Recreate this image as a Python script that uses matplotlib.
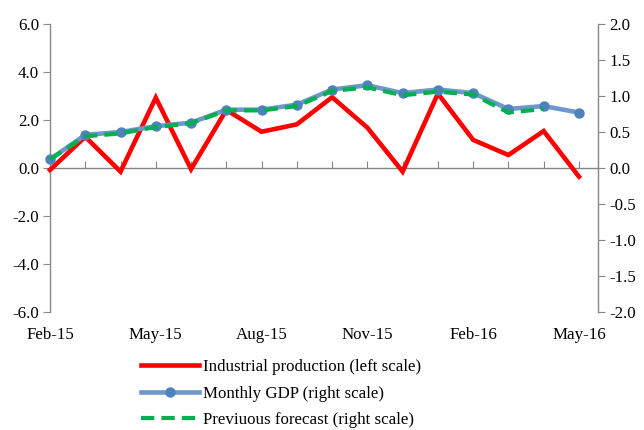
import matplotlib
matplotlib.use("Agg")
import matplotlib.pyplot as plt
import numpy as np

months = ["Feb-15", "Mar-15", "Apr-15", "May-15", "Jun-15", "Jul-15", "Aug-15", "Sep-15",
          "Oct-15", "Nov-15", "Dec-15", "Jan-16", "Feb-16", "Mar-16", "Apr-16", "May-16"]
industrial = [-0.08, 1.30, -0.15, 2.93, -0.05, 2.42, 1.51, 1.82,
              2.95, 1.68, -0.15, 3.10, 1.17, 0.54, 1.54, -0.36]
monthly_gdp = [0.12, 0.46, 0.50, 0.58, 0.63, 0.81, 0.81, 0.88,
               1.09, 1.15, 1.04, 1.09, 1.04, 0.82, 0.86, 0.77]
prev_forecast = [0.12, 0.44, 0.48, 0.57, 0.62, 0.80, 0.80, 0.86,
                 1.07, 1.12, 1.01, 1.06, 1.02, 0.77, 0.82]
tick_labels = ["Feb-15", "May-15", "Aug-15", "Nov-15", "Feb-16", "May-16"]

plt.rcParams['font.family'] = ['Liberation Serif', 'DejaVu Serif']
FS = 12.2
gray = '#868686'

fig = plt.figure(figsize=(6.44, 4.30), dpi=100)
ax = fig.add_axes([50/644, 1-312/430, (598-50)/644, (312-24)/430])
ax2 = ax.twinx()

x = np.arange(len(months))
l1, = ax.plot(x, industrial, color='#FF0000', lw=3.3, solid_joinstyle='miter', zorder=3, clip_on=False)
l2, = ax2.plot(x, monthly_gdp, color='#6F97CC', lw=3.3, marker='o', markersize=6.5,
               markerfacecolor='#4F81BD', markeredgecolor='#4F81BD', zorder=3, clip_on=False)
l3, = ax2.plot(np.arange(len(prev_forecast)), prev_forecast, color='#00B050', lw=3.0,
               dashes=(3.2, 1.7), zorder=4, clip_on=False)

ax.set_xlim(0, 15.54)
ax.set_ylim(-6, 6)
ax2.set_ylim(-2, 2)
ax.set_yticks(np.arange(-6, 6.1, 2))
ax.set_yticklabels([f"{v:.1f}" for v in np.arange(-6, 6.1, 2)])
ax2.set_yticks(np.arange(-2, 2.01, 0.5))
ax2.set_yticklabels([f"{v:.1f}" for v in np.arange(-2, 2.01, 0.5)])

for a in (ax, ax2):
    a.spines['top'].set_visible(False)
    for s in a.spines.values():
        s.set_color(gray)
        s.set_linewidth(1.0)
ax.spines['right'].set_visible(False)
ax2.spines['left'].set_visible(False)
ax2.spines['bottom'].set_visible(False)
ax.spines['bottom'].set_position(('data', 0))

ax.tick_params(axis='y', direction='out', length=5, color=gray, labelsize=FS, pad=3)
ax2.tick_params(axis='y', direction='out', length=5, color=gray, labelsize=FS, pad=3)
ax.set_xticks(x)
ax.tick_params(axis='x', direction='in', length=5, color=gray, labelbottom=False)

sec = ax.secondary_xaxis('bottom')
sec.set_xticks([months.index(m) for m in tick_labels])
sec.set_xticklabels(tick_labels)
sec.tick_params(length=0, labelsize=FS, pad=11)
sec.spines['bottom'].set_visible(False)

fig.legend([l1, l2, l3],
           ["Industrial production (left scale)", "Monthly GDP (right scale)",
            "Previuous forecast (right scale)"],
           loc='upper left', bbox_to_anchor=(141/644, 1-359/430), frameon=False,
           fontsize=FS, handlelength=3.4, handletextpad=0.25, labelspacing=0.62,
           borderpad=0, borderaxespad=0)

fig.savefig("out.png", dpi=100)
